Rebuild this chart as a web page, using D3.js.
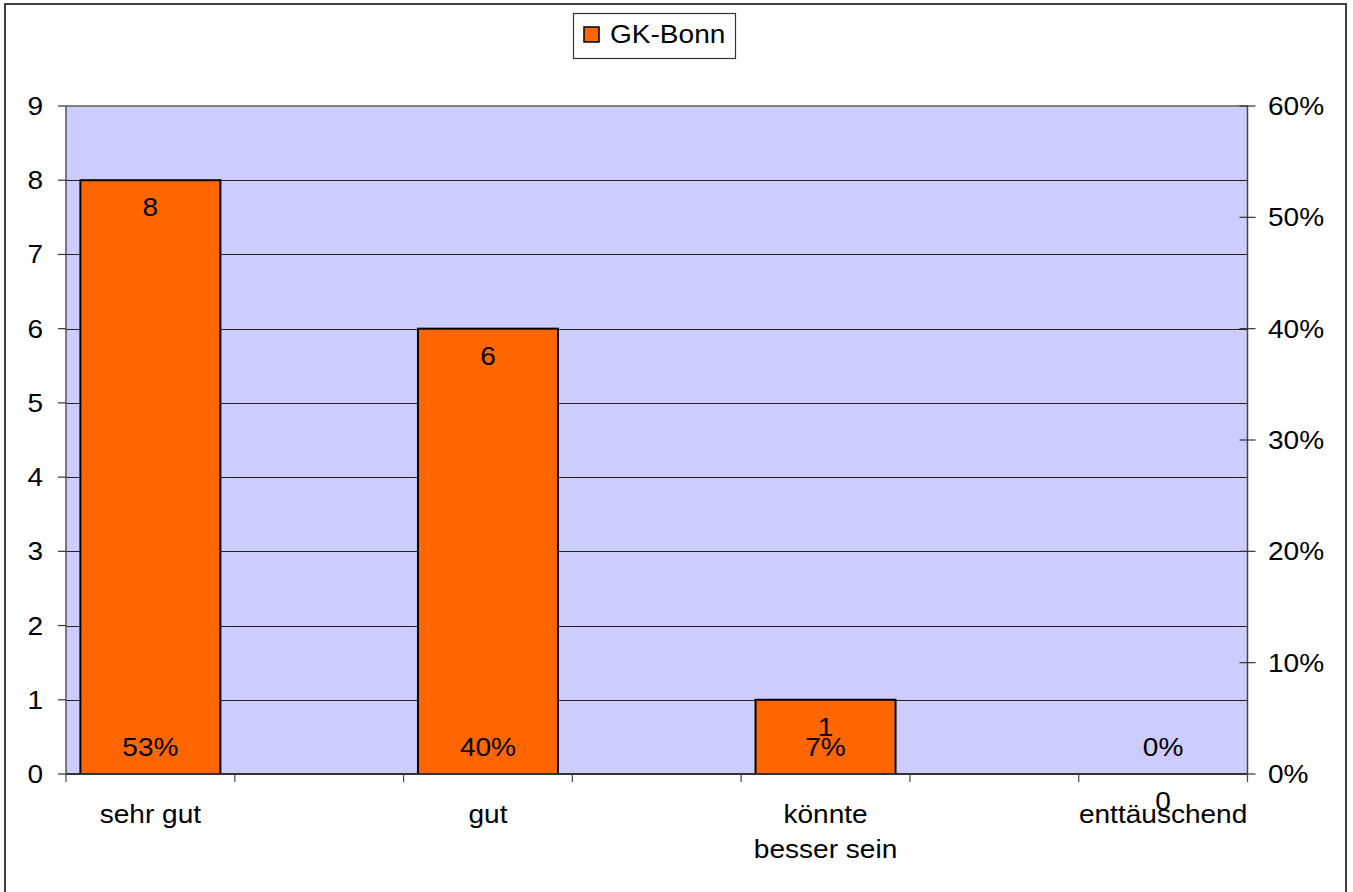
<!DOCTYPE html>
<html>
<head>
<meta charset="utf-8">
<script src="https://cdn.jsdelivr.net/npm/d3@7"></script>
<style>
html,body{margin:0;padding:0;background:#fff;}
svg{display:block;}
text{font-family:"Liberation Sans",Arial,Helvetica,sans-serif;fill:#000;}
</style>
</head>
<body>
<svg id="chart" width="1353" height="892"></svg>
<script>
// ---- data ----
const seriesName = "GK-Bonn";
const categories = ["sehr gut", "gut", "könnte\nbesser sein", "enttäuschend"];
const values = [8, 6, 1, 0];
const percentLabels = ["53%", "40%", "7%", "0%"];
const leftTicks = [0, 1, 2, 3, 4, 5, 6, 7, 8, 9];
const rightTicks = [0, 0.1, 0.2, 0.3, 0.4, 0.5, 0.6];

// ---- layout ----
const svg = d3.select("#chart");
const plot = {left: 66, right: 1247.5, top: 106, bottom: 774};
const FS = 25.5, SX = 1.1;

// slots: categories occupy every other slot of 7
const slots = d3.range(categories.length * 2 - 1).map(String);
const x = d3.scaleBand().domain(slots).range([plot.left, plot.right]).padding(0);
const catSlot = i => String(i * 2);
const yL = d3.scaleLinear().domain([0, 9]).range([plot.bottom, plot.top]);
const yR = d3.scaleLinear().domain([0, 0.6]).range([plot.bottom, plot.top]);

function txt(g, s, tx, ty, anchor) {
  return g.append("text")
    .attr("transform", `translate(${tx},${ty}) scale(${SX},1)`)
    .attr("text-anchor", anchor || "middle")
    .style("font-size", FS + "px")
    .text(s);
}

// outer frame
svg.append("rect").attr("x", 5).attr("y", 4).attr("width", 1341).attr("height", 892)
  .attr("fill", "#fff").attr("stroke", "#404040").attr("stroke-width", 2);

// plot area
svg.append("rect").attr("x", plot.left).attr("y", plot.top)
  .attr("width", plot.right - plot.left).attr("height", plot.bottom - plot.top)
  .attr("fill", "#ccccff");

// gridlines
svg.append("g").selectAll("line").data(leftTicks.filter(d => d > 0 && d < 9)).join("line")
  .attr("x1", plot.left).attr("x2", plot.right)
  .attr("y1", d => Math.round(yL(d)) + 0.5).attr("y2", d => Math.round(yL(d)) + 0.5)
  .attr("stroke", "#222").attr("stroke-width", 1);
// top border of plot area (grey)
svg.append("line").attr("x1", plot.left).attr("x2", plot.right)
  .attr("y1", plot.top).attr("y2", plot.top).attr("stroke", "#808080").attr("stroke-width", 2);

// bars
const barW = 140;
const bars = svg.append("g");
bars.selectAll("rect").data(values).join("rect")
  .attr("x", (d, i) => x(catSlot(i)) + (x.bandwidth() - barW) / 2)
  .attr("width", barW)
  .attr("y", d => yL(d))
  .attr("height", d => yL(0) - yL(d))
  .attr("fill", "#ff6600")
  .attr("stroke", "#000").attr("stroke-width", 2)
  .attr("display", d => d > 0 ? null : "none");

// left axis
const axL = svg.append("g");
axL.append("line").attr("x1", plot.left).attr("x2", plot.left).attr("y1", plot.top).attr("y2", plot.bottom)
  .attr("stroke", "#555").attr("stroke-width", 1.5);
axL.selectAll(".tk").data(leftTicks).join("line").attr("class", "tk")
  .attr("x1", plot.left - 8).attr("x2", plot.left)
  .attr("y1", d => yL(d)).attr("y2", d => yL(d)).attr("stroke", "#333").attr("stroke-width", 1.2);
leftTicks.forEach(d => txt(axL, String(d), 43, yL(d) + 9, "end"));

// right axis
const axR = svg.append("g");
axR.append("line").attr("x1", plot.right).attr("x2", plot.right).attr("y1", plot.top).attr("y2", plot.bottom)
  .attr("stroke", "#444").attr("stroke-width", 1.5);
axR.selectAll(".tk").data(rightTicks).join("line").attr("class", "tk")
  .attr("x1", plot.right - 8).attr("x2", plot.right + 8)
  .attr("y1", d => yR(d)).attr("y2", d => yR(d)).attr("stroke", "#333").attr("stroke-width", 1.2);
rightTicks.forEach(d => txt(axR, d3.format(".0%")(d), 1268, yR(d) + 9, "start"));

// bottom axis
const axB = svg.append("g");
axB.append("line").attr("x1", plot.left).attr("x2", plot.right).attr("y1", plot.bottom).attr("y2", plot.bottom)
  .attr("stroke", "#333").attr("stroke-width", 2);
const tickPos = slots.map(s => x(s)).concat([plot.right]);
axB.selectAll(".tk").data(tickPos).join("line").attr("class", "tk")
  .attr("x1", d => d).attr("x2", d => d).attr("y1", plot.bottom).attr("y2", plot.bottom + 8)
  .attr("stroke", "#444").attr("stroke-width", 1.2);

// category labels
categories.forEach((c, i) => {
  const cx = x(catSlot(i)) + x.bandwidth() / 2;
  c.split("\n").forEach((line, j) => txt(axB, line, cx, 823 + j * 35));
});

// value labels
const lbl = svg.append("g");
values.forEach((v, i) => {
  const cx = x(catSlot(i)) + x.bandwidth() / 2;
  txt(lbl, String(v), cx, yL(v) + 36);
  txt(lbl, percentLabels[i], cx, plot.bottom - 18);
});

// legend
const lg = svg.append("g");
lg.append("rect").attr("x", 573.5).attr("y", 13.5).attr("width", 162).attr("height", 45)
  .attr("fill", "#fff").attr("stroke", "#333").attr("stroke-width", 1.2);
lg.append("rect").attr("x", 584).attr("y", 27).attr("width", 15).attr("height", 15)
  .attr("fill", "#ff6600").attr("stroke", "#000").attr("stroke-width", 1.5);
txt(lg, seriesName, 610, 43, "start");
</script>
</body>
</html>
